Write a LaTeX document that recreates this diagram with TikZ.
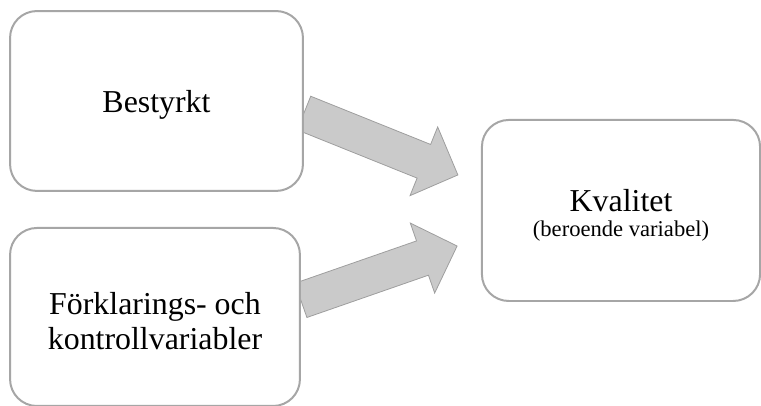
\documentclass[tikz,border=0pt]{standalone}
\usepackage{fontspec}
\setmainfont{Liberation Serif}
\definecolor{mygray}{HTML}{A6A6A6}
\definecolor{myarrow}{HTML}{CACACA}
\usepackage{tikz}
\usetikzlibrary{
  positioning, calc, backgrounds
}
\tikzset{
	boxnode/.style={
			rectangle,
			rounded corners=0.71cm,
			draw=mygray,
			line width=1.5pt,
			fill=white,
			align=center,
			inner sep=0pt,
			text depth=0pt,
			font=\fontsize{24}{26.5}\selectfont
		},
	blockarrow/.style={
			draw=mygray!95!black,
			line width=0.6pt,
			fill=myarrow,
			line join=miter
		}
}
% block arrow from #1 (tail centre) to #2 (tip)
\newcommand{\drawblockarrow}[2]{%
	\coordinate (hb) at ($(#2)!0.97cm!(#1)$);
	\draw[blockarrow] ($(#1)!0.48cm!90:(#2)$) -- ($(hb)!0.48cm!-90:(#1)$)
		-- ($(hb)!0.98cm!-90:(#1)$) -- (#2) -- ($(hb)!0.98cm!90:(#1)$)
		-- ($(hb)!0.48cm!90:(#1)$) -- ($(#1)!0.48cm!-90:(#2)$) -- cycle;
}

\begin{document}
\begin{tikzpicture}
\useasboundingbox (0,0) rectangle (20.135,-10.716);

\node[boxnode, minimum width=7.75cm, minimum height=4.76cm] (nBest) at (4.141,-2.672) {Bestyrkt};
\node[boxnode, minimum width=7.67cm, minimum height=4.71cm] (nForkl) at (4.101,-8.387)
	{\rule{0pt}{22.5pt}Förklarings- och\\kontrollvariabler};
\node[boxnode, minimum width=7.36cm, minimum height=4.79cm] (nKval) at (16.431,-5.569)
	{\rule{0pt}{20pt}Kvalitet\\[-7.5pt]{\fontsize{17}{20}\selectfont(beroende variabel)}};

\coordinate (a1s) at ([yshift=-0.32cm]nBest.east);
\coordinate (a1e) at ([xshift=-0.61cm, yshift=0.94cm]nKval.west);
\coordinate (a2s) at ([yshift=0.44cm]nForkl.east);
\coordinate (a2e) at ([xshift=-0.63cm, yshift=-0.94cm]nKval.west);

\begin{scope}[on background layer]
\drawblockarrow{a1s}{a1e}
\drawblockarrow{a2s}{a2e}
\end{scope}

\end{tikzpicture}
\end{document}
